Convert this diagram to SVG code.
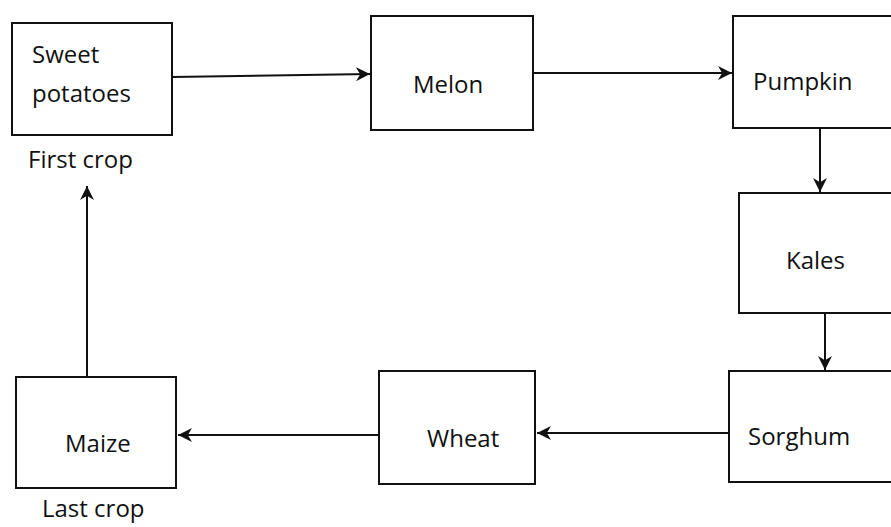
<svg xmlns="http://www.w3.org/2000/svg" width="891" height="527" viewBox="0 0 891 527">
<style>
.box{fill:#fff;stroke:#111;stroke-width:2}
.lbl{font-family:"Open Sans","Liberation Sans",sans-serif;font-size:24px;fill:#111}
.edge{stroke:#111;stroke-width:2;fill:none;marker-end:url(#ah)}
</style>
<defs>
<marker id="ah" viewBox="0 0 10 10" refX="10" refY="5" markerWidth="7" markerHeight="7" orient="auto" markerUnits="strokeWidth">
<path d="M0,0 L10,5 L0,10 L3,5 z" fill="#111"/>
</marker>
</defs>
<rect width="891" height="527" fill="#fff"/>
<g id="connectors">
<line class="edge" x1="172" y1="77" x2="370" y2="74"/>
<line class="edge" x1="533" y1="73" x2="732" y2="73"/>
<line class="edge" x1="820" y1="128" x2="820" y2="192"/>
<line class="edge" x1="825" y1="313" x2="825" y2="370"/>
<line class="edge" x1="729" y1="433" x2="537" y2="433"/>
<line class="edge" x1="379" y1="435" x2="178" y2="435"/>
<line class="edge" x1="87" y1="377" x2="87" y2="186"/>
</g>
<g id="sweet-potatoes">
<rect class="box" x="12" y="23" width="160" height="112"/>
<text class="lbl" x="32" y="63">Sweet</text>
<text class="lbl" x="32" y="102">potatoes</text>
<text class="lbl" x="28" y="168">First crop</text>
</g>
<g id="melon">
<rect class="box" x="371" y="16" width="162" height="114"/>
<text class="lbl" x="413" y="93">Melon</text>
</g>
<g id="pumpkin">
<rect class="box" x="733" y="16" width="165" height="112"/>
<text class="lbl" x="753" y="90">Pumpkin</text>
</g>
<g id="kales">
<rect class="box" x="739" y="193" width="160" height="120"/>
<text class="lbl" x="786" y="269">Kales</text>
</g>
<g id="sorghum">
<rect class="box" x="729" y="371" width="170" height="111"/>
<text class="lbl" x="748" y="445">Sorghum</text>
</g>
<g id="wheat">
<rect class="box" x="379" y="371" width="156" height="113"/>
<text class="lbl" x="427" y="447">Wheat</text>
</g>
<g id="maize">
<rect class="box" x="16" y="377" width="160" height="111"/>
<text class="lbl" x="65" y="452">Maize</text>
<text class="lbl" x="42" y="517">Last crop</text>
</g>
</svg>
